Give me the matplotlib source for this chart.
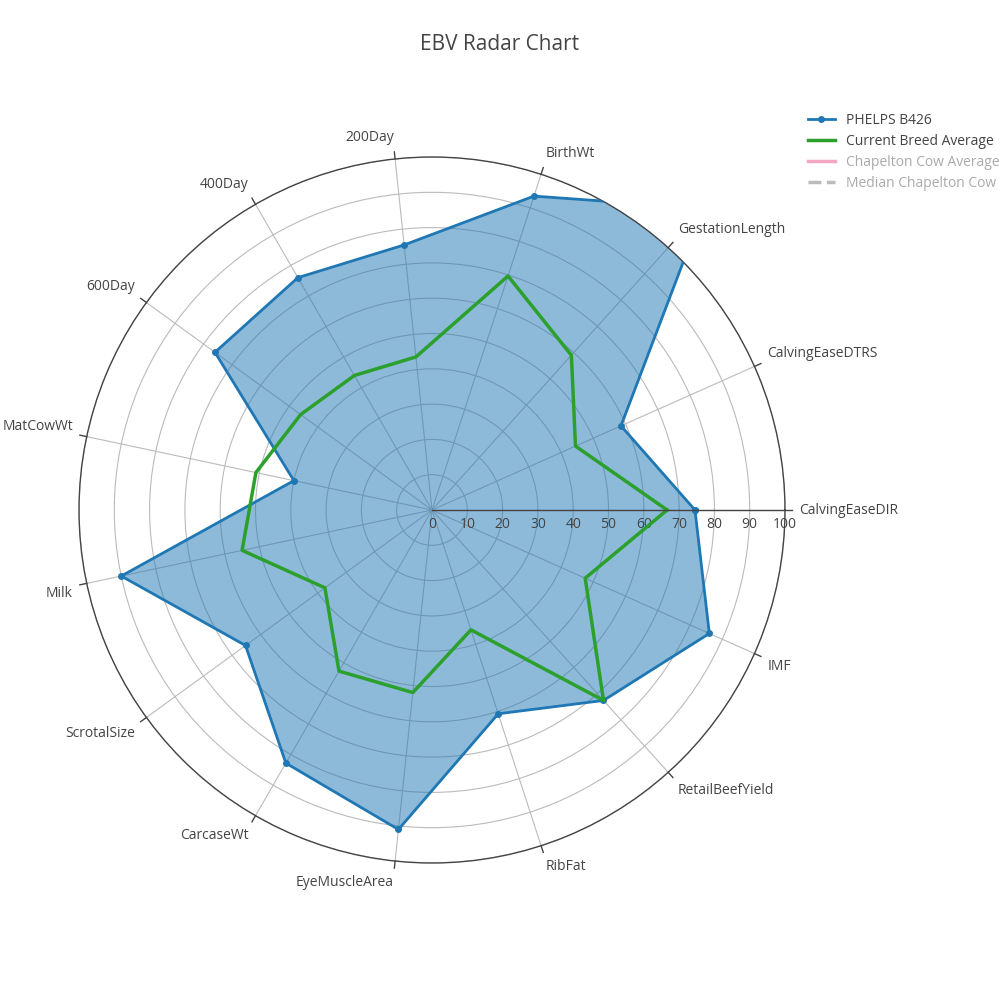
import numpy as np
import matplotlib
matplotlib.use("Agg")
import matplotlib.pyplot as plt
from matplotlib.lines import Line2D
from matplotlib.patches import Patch

categories = ["CalvingEaseDIR","CalvingEaseDTRS","GestationLength","BirthWt","200Day","400Day",
              "600Day","MatCowWt","Milk","ScrotalSize","CarcaseWt","EyeMuscleArea","RibFat",
              "RetailBeefYield","IMF"]
phelps = [74.5, 58.6, 115, 93.5, 75.5, 76, 76, 40, 90, 65.3, 82.8, 91, 60.7, 72.6, 86]
breed_avg = [66.6, 44.5, 59, 69.7, 43.6, 44, 46, 51, 55, 37.5, 52.7, 52, 35.7, 72.6, 47.5]
radial_ticks = list(range(0, 101, 10))

plt.rcParams['font.family'] = ['Open Sans', 'DejaVu Sans']
fig = plt.figure(figsize=(10, 10), dpi=100)
ax = fig.add_axes([0.079, 0.137, 0.706, 0.706], projection='polar')
n = len(categories)
ang = np.deg2rad(np.arange(n) * 360 / n)
a_closed = np.append(ang, ang[0])

p = np.append(phelps, phelps[0])
b = np.append(breed_avg, breed_avg[0])
ax.fill(a_closed, p, color='#1f77b4', alpha=0.5, zorder=2)
ax.plot(a_closed, p, color='#1f77b4', lw=2, marker='o', ms=4, zorder=3)
ax.plot(a_closed, b, color='#2ca02c', lw=2.5, zorder=4)

ax.set_ylim(0, 100)
ax.set_yticks(radial_ticks)
ax.set_yticklabels([])
ax.set_xticks(ang)
ax.set_xticklabels([])
ax.grid(color='#bbbbbb', lw=0.8)
ax.spines['polar'].set_color('#444444')
ax.spines['polar'].set_linewidth(1)
ax.plot([0, 0], [0, 100], color='#444444', lw=1, zorder=5)
for t in radial_ticks:
    ax.text(0, t, str(t), ha='center', va='top', fontsize=10, color='#444444',
            transform=ax.transData + matplotlib.transforms.ScaledTranslation(0, -5/72, fig.dpi_scale_trans))
for a, c in zip(ang, categories):
    ax.plot([a, a], [100, 102], color='#444444', lw=1, clip_on=False)
    deg = np.rad2deg(a) % 360
    ha = 'left' if (deg < 85 or deg > 275) else ('right' if 95 < deg < 265 else 'center')
    va = 'bottom' if 10 < deg < 170 else ('top' if 190 < deg < 350 else 'center')
    ax.text(a, 104, c, ha=ha, va=va, fontsize=10, color='#444444', clip_on=False)

fig.text(0.5, 0.956, "EBV Radar Chart", ha='center', va='center', fontsize=15, color='#444444')

handles = [Line2D([], [], color='#1f77b4', lw=2, marker='o', ms=4),
           Line2D([], [], color='#2ca02c', lw=2.5),
           Line2D([], [], color='#f4a6c6', lw=2.5),
           Line2D([], [], color='#bbbbbb', lw=2.5, ls='--')]
leg = fig.legend(handles, ["PHELPS B426", "Current Breed Average", "Chapelton Cow Average",
                           "Median Chapelton Cow"], loc='upper left', bbox_to_anchor=(0.795, 0.9),
                 frameon=False, fontsize=10, handlelength=2, labelspacing=0.45)
for i, t in enumerate(leg.get_texts()):
    t.set_color('#444444' if i < 2 else '#aaaaaa')
fig.savefig("out.png", dpi=100)
